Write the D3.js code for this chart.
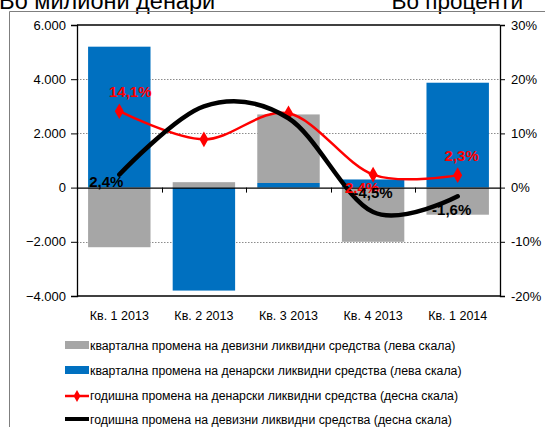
<!DOCTYPE html>
<html><head><meta charset="utf-8">
<script src="https://cdn.jsdelivr.net/npm/d3@7"></script>
<style>html,body{margin:0;padding:0;background:#fff;}svg{display:block;}</style>
</head><body>
<script>
const categories = ["Кв. 1 2013","Кв. 2 2013","Кв. 3 2013","Кв. 4 2013","Кв. 1 2014"];
const foreignQuarterly = [-2200, 200, 2530, -2000, -1000];   // gray, left axis
const denarQuarterly   = [5200, -3800, 170, 300, 3870];      // blue, left axis
const denarAnnual      = [14.1, 8.9, 13.7, 2.4, 2.3];        // red, right axis (%)
const foreignAnnual    = [2.4, 15.0, 12.8, -4.5, -1.6];      // black, right axis (%)
const leftTicks  = [-4000, -2000, 0, 2000, 4000, 6000];
const rightTicks = [-20, -10, 0, 10, 20, 30];
const legendLabels = [
  "квартална промена на девизни ликвидни средства (лева скала)",
  "квартална промена на денарски ликвидни средства  (лева скала)",
  "годишна промена на денарски ликвидни средства (десна скала)",
  "годишна промена на девизни ликвидни средства (десна скала)"
];
const leftTitle = "Во милиони денари";
const rightTitle = "Во проценти";

const W = 545, H = 427;
const m = {left: 77, right: 500, top: 25, bottom: 296};
const FONT = "'Liberation Sans', Arial, sans-serif";
const BLUE = "#0070C0", GRAY = "#A6A6A6", RED = "#FF0000";

const svg = d3.select("body").append("svg").attr("width", W).attr("height", H)
  .style("font-family", FONT);
svg.append("rect").attr("width", W).attr("height", H).attr("fill", "#fff");

// titles (clipped at top)
svg.append("text").attr("x", -1).attr("y", 9).attr("font-size", 23.5).attr("fill", "#000").text(leftTitle);
svg.append("text").attr("x", 523).attr("y", 9).attr("text-anchor", "end").attr("font-size", 22.5).attr("fill", "#000").text(rightTitle);

// outer frame
svg.append("path").attr("d", `M9.5,${H}V11.5H${W}`).attr("fill", "none").attr("stroke", "#7f7f7f").attr("stroke-width", 1);

const x = d3.scaleBand().domain(categories).range([m.left, m.right]).paddingInner(0.262).paddingOuter(0.131);
const xc = d => x(d) + x.bandwidth() / 2;
const yL = d3.scaleLinear().domain([-4000, 6000]).range([m.bottom, m.top]);
const yR = d3.scaleLinear().domain([-20, 30]).range([m.bottom, m.top]);

// gridlines
svg.append("g").selectAll("line").data(leftTicks.filter(v => v !== 0 && v !== -4000 && v !== 6000)).join("line")
  .attr("x1", m.left).attr("x2", m.right)
  .attr("y1", d => Math.round(yL(d)) + 0.5).attr("y2", d => Math.round(yL(d)) + 0.5)
  .attr("stroke", "#8c8c8c").attr("stroke-width", 1).attr("stroke-dasharray", "1.5,1.5");

// stacked bars
const rows = categories.map((c, i) => ({cat: c, blue: denarQuarterly[i], gray: foreignQuarterly[i]}));
const stack = d3.stack().keys(["blue", "gray"]).offset(d3.stackOffsetDiverging)(rows);
const colors = {blue: BLUE, gray: GRAY};
svg.append("g").selectAll("g").data(stack).join("g").attr("fill", d => colors[d.key])
  .selectAll("rect").data(d => d).join("rect")
  .attr("x", d => x(d.data.cat)).attr("width", x.bandwidth())
  .attr("y", d => yL(Math.max(d[0], d[1]))).attr("height", d => Math.abs(yL(d[0]) - yL(d[1])));

// axes
const axL = svg.append("g").attr("transform", `translate(${m.left},0)`)
  .call(d3.axisLeft(yL).tickValues(leftTicks).tickSize(6).tickPadding(5)
    .tickFormat(d => d3.format(",")(d).replace(/,/g, ".")));
const axR = svg.append("g").attr("transform", `translate(${m.right},0)`)
  .call(d3.axisRight(yR).tickValues(rightTicks).tickSize(5).tickPadding(6).tickFormat(d => d + "%"));
[axL, axR].forEach(a => {
  a.select(".domain").attr("stroke", "#000").attr("stroke-width", 1.3);
  a.selectAll(".tick line").attr("stroke", "#000");
  a.selectAll("text").attr("font-size", 13).attr("font-family", FONT).attr("fill", "#000");
});
// top and bottom lines
[6000, -4000].forEach(v => {
  svg.append("line").attr("x1", m.left).attr("x2", m.right).attr("y1", yL(v)).attr("y2", yL(v))
    .attr("stroke", "#000").attr("stroke-width", 1.3);
});
// category axis at zero
const axX = svg.append("g").attr("transform", `translate(0,${yL(0)})`)
  .call(d3.axisBottom(x).tickSize(0).tickFormat(""));
axX.select(".domain").attr("stroke", "#000").attr("stroke-width", 1.3);
svg.append("g").selectAll("line").data(categories.slice(1)).join("line")
  .attr("x1", d => Math.round(x(d) - x.step() * x.paddingInner() / 2) + 0.5)
  .attr("x2", d => Math.round(x(d) - x.step() * x.paddingInner() / 2) + 0.5)
  .attr("y1", yL(0)).attr("y2", yL(0) + 5).attr("stroke", "#000");
// category labels
svg.append("g").selectAll("text").data(categories).join("text")
  .attr("x", d => xc(d)).attr("y", 320).attr("text-anchor", "middle")
  .attr("font-size", 12.5).attr("fill", "#000").text(d => d);

// lines
const curve = d3.curveCardinal.tension(0);
const lineGen = d3.line().x((d, i) => xc(categories[i])).y(d => yR(d)).curve(curve);
svg.append("path").datum(denarAnnual).attr("d", lineGen).attr("fill", "none")
  .attr("stroke", RED).attr("stroke-width", 2.5);
const diamond = d3.symbol().type(d3.symbolDiamond).size(70);
svg.append("g").selectAll("path").data(denarAnnual).join("path")
  .attr("transform", (d, i) => `translate(${xc(categories[i])},${yR(d)})`)
  .attr("d", diamond).attr("fill", RED);
svg.append("path").datum(foreignAnnual).attr("d", lineGen).attr("fill", "none")
  .attr("stroke", "#000").attr("stroke-width", 4.5).attr("stroke-linecap", "round");

// data labels
const fmt = v => String(v.toFixed(1)).replace(".", ",") + "%";
const redLabels = [{i: 0, dx: 11, dy: -14}, {i: 3, dx: -11, dy: 18}, {i: 4, dx: 4, dy: -14.5}];
const blackLabels = [{i: 0, dx: -13, dy: 12.5}, {i: 3, dx: 0, dy: -14}, {i: 4, dx: -6, dy: 19}];
const lbl = svg.append("g").attr("font-weight", "bold").attr("font-size", 15).attr("text-anchor", "middle");
lbl.selectAll("text.r").data(redLabels).join("text").attr("class", "r")
  .attr("x", d => xc(categories[d.i]) + d.dx).attr("y", d => yR(denarAnnual[d.i]) + d.dy)
  .attr("fill", RED).text(d => fmt(denarAnnual[d.i]));
lbl.selectAll("text.b").data(blackLabels).join("text").attr("class", "b")
  .attr("x", d => xc(categories[d.i]) + d.dx).attr("y", d => yR(foreignAnnual[d.i]) + d.dy)
  .attr("fill", "#000").text(d => fmt(foreignAnnual[d.i]));

// legend
const lg = svg.append("g");
const rowsY = [350, 375, 400, 424];
legendLabels.forEach((t, i) => {
  const yb = rowsY[i];
  if (i < 2) {
    lg.append("rect").attr("x", 65).attr("y", yb - 9).attr("width", 24).attr("height", 8)
      .attr("fill", i === 0 ? GRAY : BLUE);
  } else if (i === 2) {
    lg.append("line").attr("x1", 65).attr("x2", 89).attr("y1", yb - 4).attr("y2", yb - 4)
      .attr("stroke", RED).attr("stroke-width", 2.5);
    lg.append("path").attr("transform", `translate(77,${yb - 4})`).attr("d", d3.symbol().type(d3.symbolDiamond).size(40)).attr("fill", RED);
  } else {
    lg.append("line").attr("x1", 65).attr("x2", 89).attr("y1", yb - 5).attr("y2", yb - 5)
      .attr("stroke", "#000").attr("stroke-width", 4);
  }
  lg.append("text").attr("x", 90).attr("y", yb).attr("font-size", 12.3).attr("fill", "#000").text(t);
});
</script>
</body></html>
